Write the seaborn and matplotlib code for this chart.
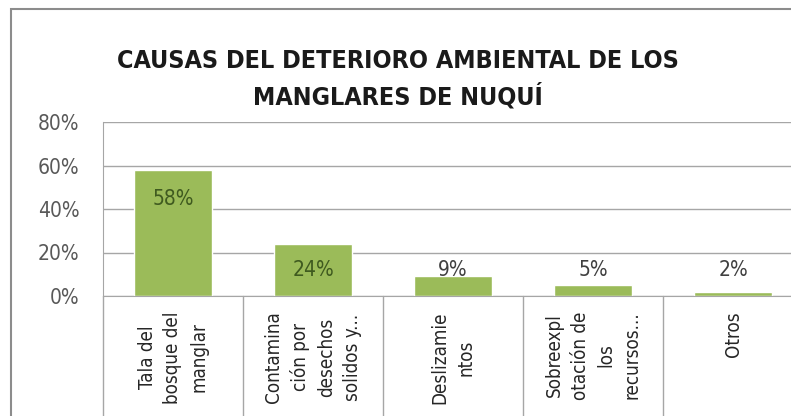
import seaborn as sns
import matplotlib.pyplot as plt
from matplotlib.patches import Rectangle
import pandas as pd

causas = ['Tala del\nbosque del\nmanglar',
          'Contamina\nción por\ndesechos\nsolidos y...',
          'Deslizamie\nntos',
          'Sobreexpl\notación de\nlos\nrecursos...',
          'Otros']
porcentajes = [0.58, 0.24, 0.09, 0.05, 0.02]
etiquetas = ['58%', '24%', '9%', '5%', '2%']
ticks_y = [0, 0.2, 0.4, 0.6, 0.8]
ticks_txt = ['0%', '20%', '40%', '60%', '80%']
titulo = 'CAUSAS DEL DETERIORO AMBIENTAL DE LOS\nMANGLARES DE NUQUÍ'

df = pd.DataFrame({'causa': causas, 'pct': porcentajes})

sns.set_style('white')
fuente = ['Liberation Sans Narrow', 'DejaVu Sans']
plt.rcParams['font.family'] = fuente

fig = plt.figure(figsize=(7.91, 4.16), dpi=100)
fig.patches.append(Rectangle((11 / 791, -0.1), 1.0, (416 - 9) / 416 + 0.1,
                             transform=fig.transFigure, fill=False,
                             edgecolor='#8c8c8c', linewidth=1.5))

ax = fig.add_axes([103 / 791, 120 / 416, 700 / 791, 174 / 416])
sns.barplot(data=df, x='causa', y='pct', color='#9BBB59', saturation=1,
            width=0.56, ax=ax)
ax.set_xlim(-0.5, 4.5)
ax.set_ylim(0, 0.8)
ax.set_yticks(ticks_y)
ax.set_yticklabels(ticks_txt, fontsize=15, color='#595959', fontstretch='condensed')
ax.tick_params(axis='y', length=0, pad=17)
ax.set_xticks([])
ax.set_xlabel('')
ax.set_ylabel('')
ax.grid(axis='y', color='#a6a6a6', linewidth=1)
ax.set_axisbelow(True)
for s in ['top', 'right']:
    ax.spines[s].set_visible(False)
ax.spines['left'].set_color('#a6a6a6')
ax.spines['bottom'].set_color('#a6a6a6')

# separadores de categoria bajo el eje
for i in range(len(causas) + 1):
    ax.plot([i - 0.5, i - 0.5], [0, -0.6], color='#a6a6a6', linewidth=1,
            clip_on=False)

for i, (v, t) in enumerate(zip(porcentajes, etiquetas)):
    col = '#3f5a1f' if v > 0.2 else '#404040'
    ax.text(i, max(v - 0.135, 0.12), t, ha='center', va='center',
            fontsize=15, color=col, fontstretch='condensed')
    ax.text(i, -0.07, causas[i], rotation=90, ha='center', va='top',
            multialignment='center', fontsize=13.5, color='#262626',
            fontstretch='condensed', linespacing=1.45)

fig.text(0.503, 0.81, titulo, ha='center', va='center', fontsize=18,
         fontweight='bold', color='#1a1a1a', fontstretch='condensed',
         linespacing=1.45)

fig.savefig('out.png', dpi=100)
